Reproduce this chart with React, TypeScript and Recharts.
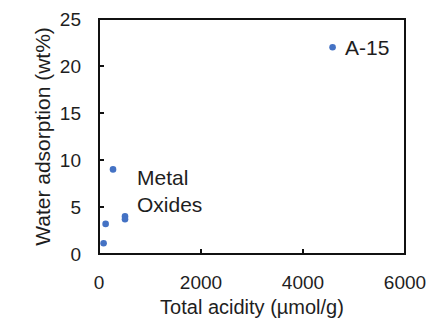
import {
  ScatterChart,
  Scatter,
  XAxis,
  YAxis,
  ReferenceArea,
  ReferenceDot,
  Label,
  LabelList,
} from "recharts";

// tick labels
const xTicks = [0, 2000, 4000, 6000];
const yTicks = [0, 5, 10, 15, 20, 25];

// Amberlyst-15
const a15Acidity = [4580];
const a15Water = [22.0];
const a15Name = "A-15";

// metal oxides
const oxideAcidity = [275, 510, 510, 130, 90];
const oxideWater = [9.0, 4.0, 3.7, 3.2, 1.15];
const oxideName = ["Metal", "Oxides"];
// where the "Metal Oxides" note sits, in data units
const oxideNoteAcidity = 745;
const oxideNoteWater = 7.3;

const a15Data = a15Acidity.map((x, i) => ({ x, y: a15Water[i], name: a15Name }));
const oxideData = oxideAcidity.map((x, i) => ({ x, y: oxideWater[i] }));

const INK = "#1e1e1e";
const DOT = "#4472C4";
const FRAME = "#111";

const Dot = (props: any) => <circle cx={props.cx} cy={props.cy} r={3.3} fill={DOT} />;

function OxideNote({ viewBox }: any) {
  const { x, y } = viewBox;
  return (
    <text x={x} y={y} fill={INK} fontSize={21}>
      <tspan x={x}>{oxideName[0]}</tspan>
      <tspan x={x} dy={27}>
        {oxideName[1]}
      </tspan>
    </text>
  );
}

export default function App() {
  return (
    <div
      style={{
        position: "absolute",
        left: 0,
        top: 0,
        width: 428,
        height: 320,
        background: "#fff",
        fontFamily: '"Liberation Sans", Arial, sans-serif',
      }}
    >
      <ScatterChart
        width={428}
        height={320}
        margin={{ top: 19, right: 23, bottom: 0, left: 0 }}
      >
        <XAxis
          type="number"
          dataKey="x"
          domain={[0, 6000]}
          ticks={xTicks}
          height={66}
          tickSize={-5}
          tickMargin={27}
          axisLine={{ stroke: FRAME, strokeWidth: 2 }}
          tickLine={{ stroke: FRAME, strokeWidth: 2 }}
          tick={{ fill: INK, fontSize: 19 }}
        >
          <Label
            value="Total acidity (µmol/g)"
            position="insideBottom"
            offset={6}
            fill={INK}
            fontSize={20}
          />
        </XAxis>
        <YAxis
          type="number"
          dataKey="y"
          domain={[0, 25]}
          ticks={yTicks}
          width={99}
          tickSize={-5}
          tickMargin={23}
          axisLine={{ stroke: FRAME, strokeWidth: 2 }}
          tickLine={{ stroke: FRAME, strokeWidth: 2 }}
          tick={{ fill: INK, fontSize: 19 }}
        >
          <Label
            value="Water adsorption (wt%)"
            angle={-90}
            position="insideLeft"
            offset={43}
            fill={INK}
            fontSize={21}
            style={{ textAnchor: "middle" }}
          />
        </YAxis>
        <ReferenceArea
          x1={0}
          x2={6000}
          y1={0}
          y2={25}
          fill="none"
          stroke={FRAME}
          strokeOpacity={1}
          strokeWidth={2}
        />
        <Scatter data={oxideData} isAnimationActive={false} shape={<Dot />} />
        <Scatter data={a15Data} isAnimationActive={false} shape={<Dot />}>
          <LabelList dataKey="name" position="right" offset={8} fill={INK} fontSize={21} />
        </Scatter>
        <ReferenceDot
          x={oxideNoteAcidity}
          y={oxideNoteWater}
          r={0}
          fill="none"
          stroke="none"
          label={<OxideNote />}
        />
      </ScatterChart>
    </div>
  );
}
